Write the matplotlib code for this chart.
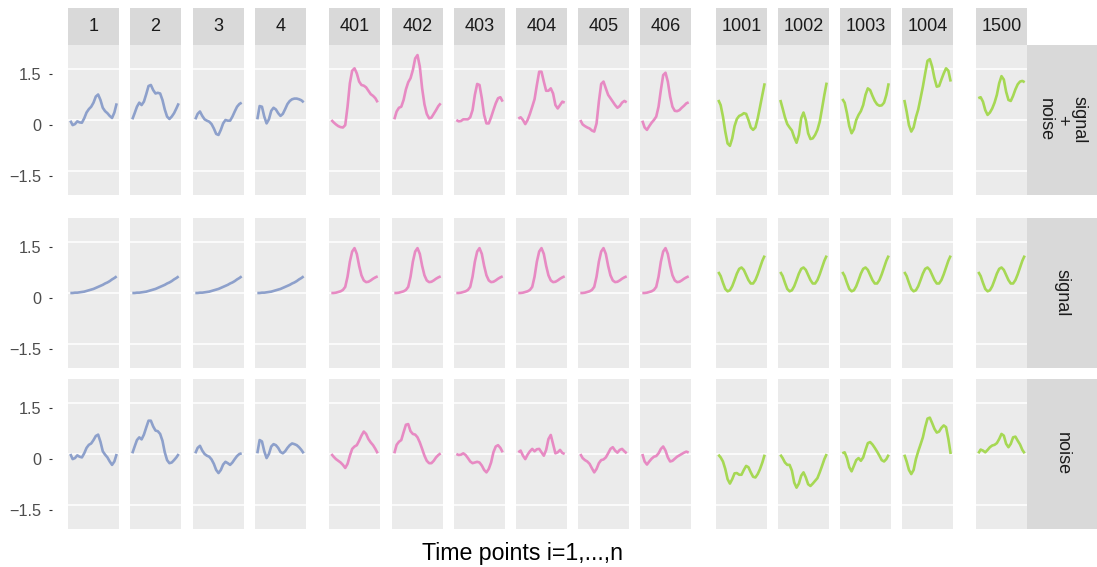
import numpy as np
import matplotlib.pyplot as plt

plt.rcParams['font.family'] = ['Liberation Sans', 'DejaVu Sans']

W, H = 1097, 567

# ---- data (21 time points per series) ----
series_ids = ['1', '2', '3', '4',
              '401', '402', '403', '404', '405', '406',
              '1001', '1002', '1003', '1004', '1500']
row_names = ['signal\n+\nnoise', 'signal', 'noise']
y_breaks = [-1.5, 0, 1.5]
y_labels = ['\u22121.5', '0', '1.5']

blue, pink, green = '#8DA0CB', '#E78AC3', '#A6D854'

signal_blue = [0.0, 0.0, 0.01, 0.01, 0.02, 0.03, 0.04, 0.06, 0.08, 0.1, 0.12,
               0.15, 0.18, 0.21, 0.24, 0.28, 0.31, 0.35, 0.4, 0.44, 0.49]
signal_pink = [0.0, 0.0, 0.01, 0.03, 0.05, 0.09, 0.18, 0.48, 0.92, 1.22, 1.32,
               1.15, 0.8, 0.52, 0.37, 0.32, 0.33, 0.37, 0.42, 0.46, 0.49]
signal_green = [0.62, 0.5, 0.3, 0.12, 0.05, 0.08, 0.2, 0.38, 0.57, 0.71, 0.75,
                0.68, 0.53, 0.38, 0.28, 0.28, 0.38, 0.55, 0.75, 0.95, 1.1]

sn_1 = [-0.02, -0.15, -0.12, -0.04, -0.07, -0.08, 0.05, 0.22, 0.32, 0.39, 0.51,
        0.69, 0.75, 0.59, 0.36, 0.26, 0.2, 0.12, 0.06, 0.22, 0.49]
sn_2 = [0.02, 0.2, 0.39, 0.51, 0.44, 0.54, 0.76, 1.0, 1.03, 0.88, 0.78,
        0.8, 0.78, 0.59, 0.31, 0.1, 0.03, 0.1, 0.2, 0.34, 0.49]
sn_3 = [0.02, 0.18, 0.25, 0.12, 0.02, -0.02, -0.05, -0.12, -0.25, -0.41, -0.44,
        -0.29, -0.1, 0.0, -0.02, -0.02, 0.1, 0.25, 0.39, 0.47, 0.51]
sn_4 = [0.02, 0.41, 0.39, 0.1, -0.1, 0.02, 0.27, 0.36, 0.31, 0.2, 0.12,
        0.18, 0.32, 0.47, 0.56, 0.61, 0.63, 0.63, 0.61, 0.58, 0.52]
sn_401 = [0.0, -0.07, -0.13, -0.18, -0.21, -0.22, -0.15, 0.39, 1.08, 1.45, 1.52,
          1.37, 1.13, 1.03, 1.01, 0.96, 0.86, 0.76, 0.71, 0.64, 0.52]
sn_402 = [0.02, 0.25, 0.36, 0.39, 0.59, 0.9, 1.11, 1.23, 1.47, 1.81, 1.91,
          1.57, 0.93, 0.46, 0.18, 0.05, 0.07, 0.18, 0.29, 0.41, 0.49]
sn_403 = [0.0, -0.04, -0.03, 0.02, 0.02, 0.02, 0.08, 0.29, 0.74, 1.06, 1.03,
          0.64, 0.15, -0.1, -0.1, 0.08, 0.29, 0.49, 0.64, 0.67, 0.54]
sn_404 = [0.04, 0.08, 0.0, -0.12, 0.0, 0.18, 0.39, 0.61, 1.03, 1.42, 1.42,
          1.13, 0.86, 0.86, 0.93, 0.78, 0.44, 0.34, 0.44, 0.54, 0.51]
sn_405 = [0.0, -0.13, -0.18, -0.22, -0.25, -0.31, -0.34, -0.1, 0.54, 1.06, 1.13,
          0.93, 0.74, 0.64, 0.54, 0.44, 0.36, 0.41, 0.51, 0.56, 0.52]
sn_406 = [-0.02, -0.22, -0.29, -0.18, -0.08, 0.0, 0.1, 0.39, 0.88, 1.32, 1.39,
          1.13, 0.69, 0.39, 0.27, 0.26, 0.29, 0.36, 0.42, 0.49, 0.52]
sn_1001 = [0.59, 0.44, 0.1, -0.34, -0.69, -0.76, -0.54, -0.18, 0.03, 0.12, 0.15,
           0.2, 0.18, 0.0, -0.22, -0.29, -0.22, 0.05, 0.39, 0.74, 1.08]
sn_1002 = [0.59, 0.34, 0.08, -0.12, -0.22, -0.31, -0.51, -0.67, -0.44, 0.05, 0.22,
           0.0, -0.39, -0.56, -0.54, -0.44, -0.29, -0.05, 0.34, 0.74, 1.1]
sn_1003 = [0.62, 0.51, 0.2, -0.18, -0.39, -0.27, 0.0, 0.15, 0.26, 0.44, 0.74,
           0.93, 0.88, 0.71, 0.56, 0.46, 0.42, 0.43, 0.51, 0.74, 1.08]
sn_1004 = [0.59, 0.25, -0.15, -0.34, -0.22, 0.08, 0.31, 0.64, 0.98, 1.37, 1.74,
           1.79, 1.57, 1.23, 0.98, 1.0, 1.19, 1.37, 1.52, 1.45, 1.13]
sn_1500 = [0.64, 0.67, 0.54, 0.29, 0.15, 0.22, 0.34, 0.51, 0.74, 1.08, 1.29,
           1.19, 0.83, 0.59, 0.56, 0.71, 0.9, 1.05, 1.13, 1.15, 1.11]

noise_1 = [0.0, -0.15, -0.12, -0.04, -0.08, -0.1, 0.02, 0.18, 0.27, 0.31, 0.41,
           0.53, 0.57, 0.36, 0.08, -0.02, -0.1, -0.22, -0.32, -0.22, 0.0]
noise_2 = [0.02, 0.22, 0.41, 0.49, 0.43, 0.57, 0.78, 0.98, 0.98, 0.81, 0.69,
           0.67, 0.59, 0.39, 0.05, -0.18, -0.27, -0.25, -0.18, -0.1, 0.0]
noise_3 = [0.02, 0.18, 0.24, 0.1, 0.0, -0.05, -0.08, -0.16, -0.29, -0.47, -0.56,
           -0.47, -0.31, -0.23, -0.27, -0.32, -0.25, -0.15, -0.06, 0.0, 0.02]
noise_4 = [0.02, 0.41, 0.37, 0.08, -0.12, 0.0, 0.22, 0.29, 0.26, 0.18, 0.06,
           0.02, 0.08, 0.18, 0.26, 0.31, 0.29, 0.26, 0.2, 0.12, 0.02]
noise_401 = [0.0, -0.08, -0.15, -0.2, -0.25, -0.32, -0.41, -0.29, -0.05, 0.15, 0.22,
             0.26, 0.39, 0.54, 0.66, 0.59, 0.44, 0.34, 0.26, 0.15, 0.02]
noise_402 = [0.02, 0.27, 0.36, 0.41, 0.64, 0.86, 0.88, 0.67, 0.59, 0.57, 0.49,
             0.34, 0.15, -0.05, -0.2, -0.27, -0.27, -0.2, -0.1, -0.03, 0.02]
noise_403 = [0.0, -0.03, -0.02, 0.02, -0.03, -0.12, -0.22, -0.27, -0.25, -0.23, -0.25,
             -0.34, -0.47, -0.54, -0.44, -0.25, 0.05, 0.22, 0.26, 0.18, 0.05]
noise_404 = [0.05, 0.1, -0.05, -0.15, -0.02, 0.08, 0.15, 0.08, 0.14, 0.15, 0.05,
             -0.05, 0.12, 0.44, 0.56, 0.29, 0.02, 0.05, 0.12, 0.03, 0.0]
noise_405 = [0.0, -0.12, -0.18, -0.22, -0.29, -0.42, -0.54, -0.44, -0.27, -0.18, -0.16,
             -0.1, 0.02, 0.15, 0.2, 0.1, 0.04, 0.12, 0.15, 0.08, 0.02]
noise_406 = [0.0, -0.22, -0.31, -0.22, -0.14, -0.08, -0.06, 0.02, 0.15, 0.22, 0.1,
             -0.1, -0.22, -0.2, -0.14, -0.08, -0.04, 0.0, 0.04, 0.07, 0.04]
noise_1001 = [-0.02, -0.1, -0.22, -0.44, -0.74, -0.87, -0.74, -0.57, -0.56, -0.61, -0.61,
              -0.47, -0.35, -0.39, -0.54, -0.67, -0.69, -0.59, -0.44, -0.25, -0.02]
noise_1002 = [-0.02, -0.12, -0.25, -0.32, -0.32, -0.49, -0.84, -0.99, -0.87, -0.64, -0.54,
              -0.69, -0.89, -0.94, -0.87, -0.79, -0.71, -0.54, -0.35, -0.15, 0.0]
noise_1003 = [0.02, 0.05, -0.12, -0.39, -0.51, -0.35, -0.18, -0.12, -0.2, -0.1, 0.12,
              0.32, 0.35, 0.28, 0.18, 0.07, -0.05, -0.18, -0.22, -0.15, -0.02]
noise_1004 = [-0.02, -0.22, -0.47, -0.59, -0.47, -0.15, 0.08, 0.28, 0.49, 0.79, 1.04,
              1.07, 0.91, 0.74, 0.63, 0.66, 0.77, 0.84, 0.79, 0.44, 0.0]
noise_1500 = [0.02, 0.13, 0.1, 0.05, 0.12, 0.2, 0.25, 0.27, 0.32, 0.44, 0.59,
              0.54, 0.3, 0.2, 0.3, 0.49, 0.51, 0.39, 0.28, 0.12, 0.02]

sn_rows = [sn_1, sn_2, sn_3, sn_4, sn_401, sn_402, sn_403, sn_404, sn_405, sn_406,
           sn_1001, sn_1002, sn_1003, sn_1004, sn_1500]
noise_rows = [noise_1, noise_2, noise_3, noise_4, noise_401, noise_402, noise_403,
              noise_404, noise_405, noise_406, noise_1001, noise_1002, noise_1003,
              noise_1004, noise_1500]
signal_rows = [signal_blue] * 4 + [signal_pink] * 6 + [signal_green] * 5
colors = [blue] * 4 + [pink] * 6 + [green] * 5
rows = [sn_rows, signal_rows, noise_rows]

# ---- layout (pixels) ----
col_left = [68, 130, 193, 255, 329, 392, 454, 516, 578, 640, 716, 778, 840, 902, 976]
row_top = [45, 218, 379]
pw, ph = 51, 150
ylim = (-2.206, 2.206)


def frac(x, y, w, h):
    return [x / W, 1 - (y + h) / H, w / W, h / H]


fig = plt.figure(figsize=(W / 100, H / 100), dpi=100)

for r in range(3):
    for c, sid in enumerate(series_ids):
        ax = fig.add_axes(frac(col_left[c], row_top[r], pw, ph))
        ax.set_facecolor('#EBEBEB')
        vals = rows[r][c]
        t = np.arange(1, len(vals) + 1)
        ax.plot(t, vals, color=colors[c], lw=1.9, solid_capstyle='butt',
                solid_joinstyle='round')
        ax.set_xlim(1 - 0.05 * (len(vals) - 1), len(vals) + 0.05 * (len(vals) - 1))
        ax.set_ylim(*ylim)
        ax.set_yticks(y_breaks)
        ax.set_xticks([])
        ax.grid(axis='y', color='white', lw=1.1)
        ax.set_axisbelow(True)
        ax.tick_params(length=0, labelleft=False)
        for s in ax.spines.values():
            s.set_visible(False)

        if r == 0:
            st = fig.add_axes(frac(col_left[c], 8, pw, 37))
            st.set_facecolor('#D9D9D9')
            st.set_xticks([])
            st.set_yticks([])
            for s in st.spines.values():
                s.set_visible(False)
            st.text(0.5, 0.5, sid, ha='center', va='center', fontsize=13,
                    color='#1A1A1A', transform=st.transAxes)

    # right strip
    rs = fig.add_axes(frac(1027, row_top[r], 70, ph))
    rs.set_facecolor('#D9D9D9')
    rs.set_xticks([])
    rs.set_yticks([])
    for s in rs.spines.values():
        s.set_visible(False)
    rs.text(0.5, 0.5, row_names[r], ha='center', va='center', rotation=270,
            fontsize=13, color='#1A1A1A', linespacing=1.0,
            multialignment='center', transform=rs.transAxes)

    # y axis (drawn slightly apart from the panels, as in the original)
    ya = fig.add_axes(frac(52, row_top[r] + 5, 1, ph))
    ya.set_facecolor('none')
    ya.set_ylim(*ylim)
    ya.set_xticks([])
    ya.set_yticks(y_breaks)
    ya.set_yticklabels(y_labels)
    ya.tick_params(axis='y', length=2.5, width=0.8, color='#333333', pad=5,
                   labelsize=11.7, labelcolor='#4D4D4D')
    for s in ya.spines.values():
        s.set_visible(False)

fig.text(522 / W, 1 - 560 / H, 'Time points i=1,...,n', ha='center',
         va='baseline', fontsize=16.7, color='black')

fig.savefig('out.png', dpi=100)
